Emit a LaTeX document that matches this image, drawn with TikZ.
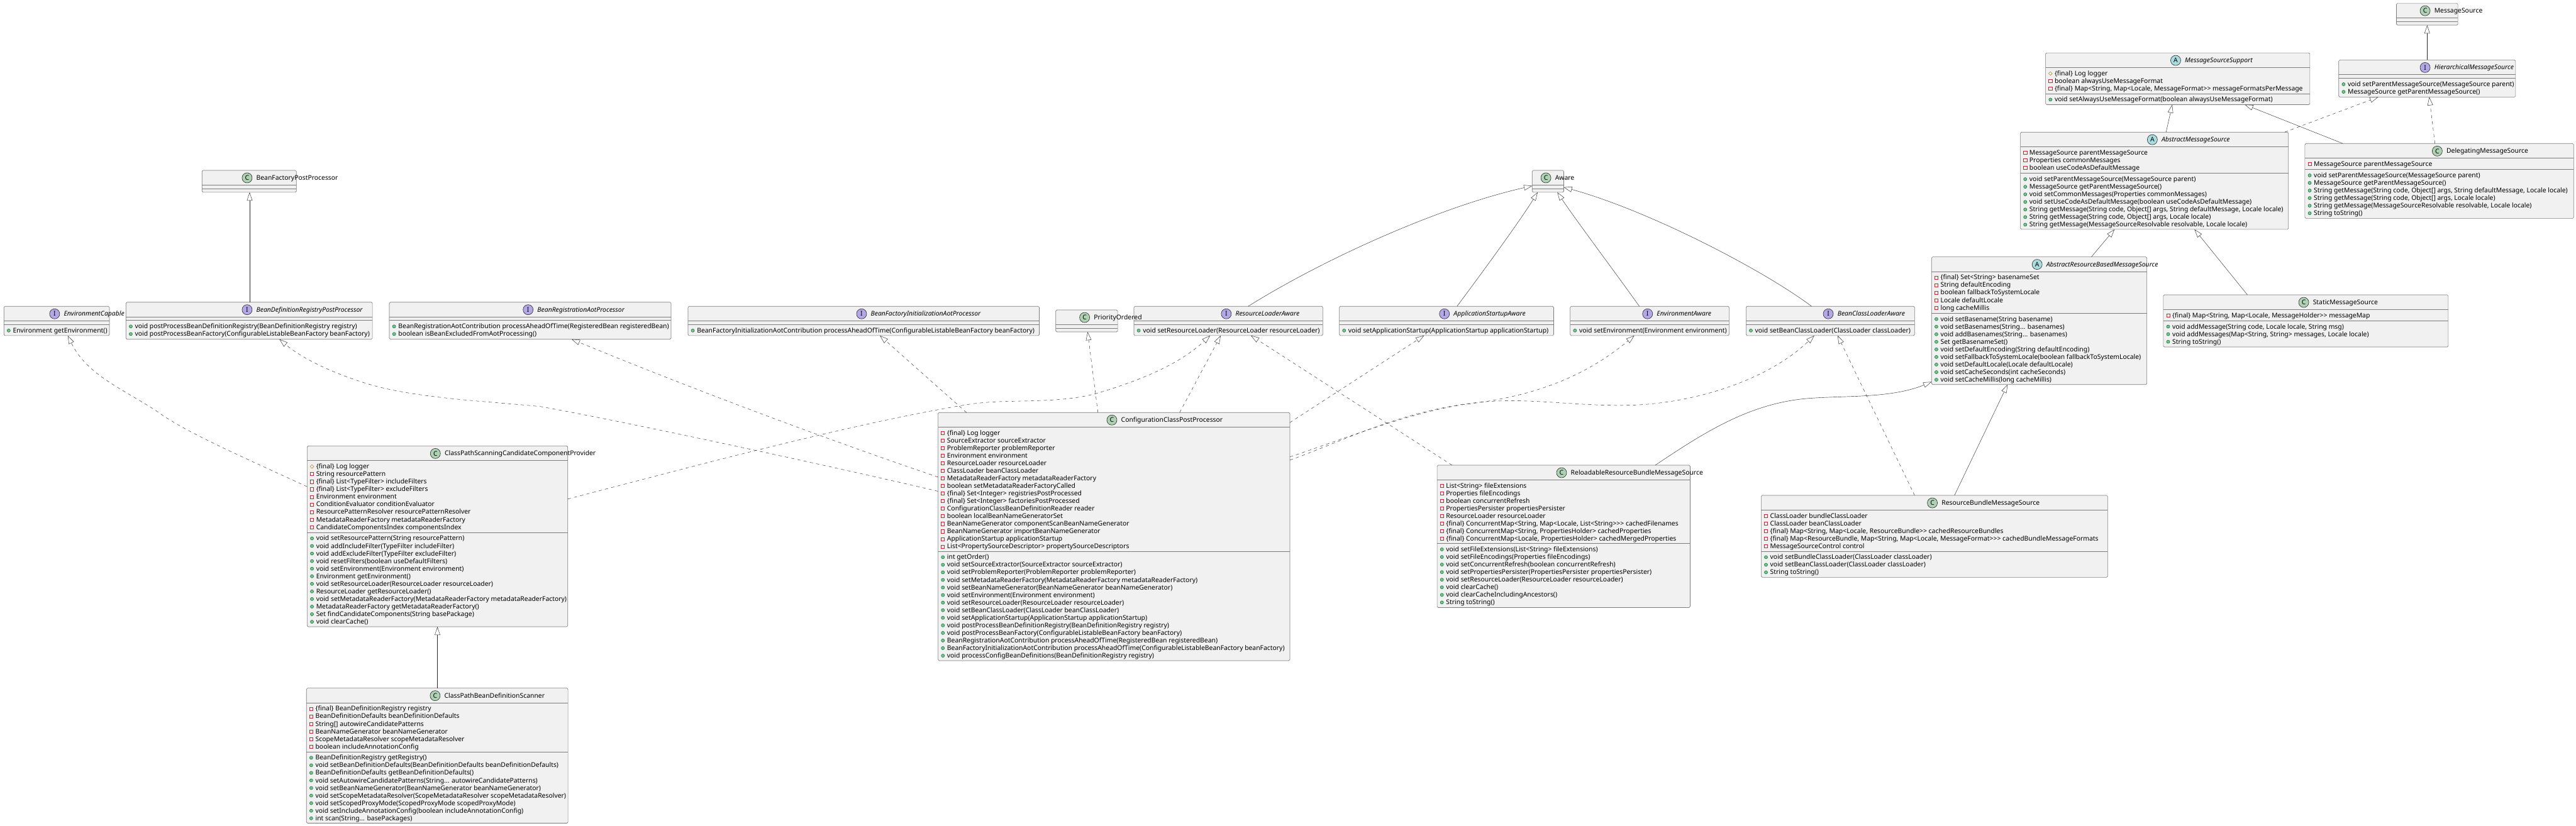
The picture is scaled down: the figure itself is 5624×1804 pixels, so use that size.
\documentclass[tikz,border=0pt]{standalone}
\usepackage{fontspec}
\setmainfont[Ligatures={TeXOff,NoCommon}]{Noto Sans}
\usetikzlibrary{arrows.meta,calc}
\definecolor{boxline}{HTML}{7C7C7C}
\definecolor{boxfill}{HTML}{F1F1F1}
\definecolor{edgeline}{HTML}{262626}
\definecolor{iconC}{HTML}{ADD1B2}
\definecolor{iconI}{HTML}{B4A7E5}
\definecolor{iconA}{HTML}{A9DCDF}
\definecolor{priLine}{HTML}{C82930}
\definecolor{pubLine}{HTML}{038048}
\definecolor{pubFill}{HTML}{84BE84}
\definecolor{proLine}{HTML}{B38D22}
\newcount\rowid
\newlength\titlew
\newcommand\umlfont{\fontsize{14.25}{16}\selectfont}
\newcommand\umlbox[9]{%
  \pgfmathsetmacro\bw{#4-#2}\pgfmathsetmacro\bh{#5-#3}%
  \node[classbody,minimum width=\bw pt,minimum height=\bh pt] (#1) at (#2,#3) {};
  \draw[divider] (#2,#6) -- (#4,#6);
  \draw[divider] (#2,#7) -- (#4,#7);
  \def\tmpL{#8}\def\tmpI{I}\def\tmpA{A}%
  \ifx\tmpL\tmpI\def\titlefont{\umlfont\itshape}\else\ifx\tmpL\tmpA\def\titlefont{\umlfont\itshape}\else\def\titlefont{\umlfont}\fi\fi
  \settowidth\titlew{\titlefont #9}%
  \pgfmathsetmacro\cx{(#2+#4)/2-(31+\titlew)/2+11}%
  \pgfmathsetmacro\tx{\cx+20}%
  \node[classicon,fill=icon#8] (#1-icon) at (\cx,{#3+16.5}) {#8};
  \node[classname,font=\titlefont] (#1-title) at (\tx,{#3+21.3}) {#9};
}
\newcommand\rowsat[2]{\def\rowx{#1}\pgfmathsetmacro\rowy{#2+13}}
\newcommand\rowtext[1]{\global\advance\rowid by 1
  \node[rowtxt] (row\the\rowid) at ({\rowx+19.5},{\rowy+4.8}) {#1};
  \pgfmathsetmacro\rowy{\rowy+16.55}}
\newcommand\pri[1]{\draw[priLine,line width=.8pt] ({\rowx+10.5-3.5},{\rowy-3.5}) rectangle ++(7,7);\rowtext{#1}}
\newcommand\pub[1]{\draw[pubLine,fill=pubFill,line width=.8pt] ({\rowx+10.5},\rowy) circle (3.5);\rowtext{#1}}
\newcommand\pro[1]{\draw[proLine,line width=.8pt] ({\rowx+10.5-4},\rowy) -- ({\rowx+10.5},{\rowy-4}) -- ({\rowx+10.5+4},\rowy) -- ({\rowx+10.5},{\rowy+4}) -- cycle;\rowtext{#1}}
\tikzset{
  classbody/.style={draw=boxline,fill=boxfill,line width=.9pt,rounded corners=2.5pt,anchor=north west,inner sep=0pt,outer sep=0pt},
  divider/.style={draw=boxline,line width=.9pt},
  classicon/.style={circle,draw=edgeline,line width=.8pt,minimum size=22pt,inner sep=0pt,font=\umlfont\bfseries},
  classname/.style={anchor=base west,inner sep=0pt,text=black},
  rowtxt/.style={anchor=base west,inner sep=0pt,font=\umlfont,text=black},
  gen/.style={draw=edgeline,line width=.6pt,-{Triangle[fill=white,length=18pt,width=12pt]}},
  impl/.style={gen,dash pattern=on 7pt off 7pt},
}
\begin{document}
\begin{tikzpicture}[x=1pt,y=-1pt]
\fill[white] (0,0) rectangle (5624,1804);
\useasboundingbox (0,0) rectangle (5624,1804);

\umlbox{ms}{5232}{7}{5366}{55}{39}{47}{C}{MessageSource}
\umlbox{mss}{4466}{115.5}{5043}{228.6}{147.5}{204.5}{A}{MessageSourceSupport}
\rowsat{4466}{147.5}
\pro{\{final\} Log logger}
\pri{boolean alwaysUseMessageFormat}
\pri{\{final\} Map<String, Map<Locale, MessageFormat>> messageFormatsPerMessage}
\rowsat{4466}{204.5}
\pub{void setAlwaysUseMessageFormat(boolean alwaysUseMessageFormat)}

\umlbox{hms}{5106}{131}{5492}{212}{163}{171}{I}{HierarchicalMessageSource}
\rowsat{5106}{171}
\pub{void setParentMessageSource(MessageSource parent)}
\pub{MessageSource getParentMessageSource()}

\umlbox{ams}{4411}{288.6}{4996}{501}{320.6}{378.4}{A}{AbstractMessageSource}
\rowsat{4411}{320.6}
\pri{MessageSource parentMessageSource}
\pri{Properties commonMessages}
\pri{boolean useCodeAsDefaultMessage}
\rowsat{4411}{378.4}
\pub{void setParentMessageSource(MessageSource parent)}
\pub{MessageSource getParentMessageSource()}
\pub{void setCommonMessages(Properties commonMessages)}
\pub{void setUseCodeAsDefaultMessage(boolean useCodeAsDefaultMessage)}
\pub{String getMessage(String code, Object[] args, String defaultMessage, Locale locale)}
\pub{String getMessage(String code, Object[] args, Locale locale)}
\pub{String getMessage(MessageSourceResolvable resolvable, Locale locale)}

\umlbox{dms}{5032}{313.5}{5619}{477}{345.5}{370}{C}{DelegatingMessageSource}
\rowsat{5032}{345.5}
\pri{MessageSource parentMessageSource}
\rowsat{5032}{370}
\pub{void setParentMessageSource(MessageSource parent)}
\pub{MessageSource getParentMessageSource()}
\pub{String getMessage(String code, Object[] args, String defaultMessage, Locale locale)}
\pub{String getMessage(String code, Object[] args, Locale locale)}
\pub{String getMessage(MessageSourceResolvable resolvable, Locale locale)}
\pub{String toString()}

\umlbox{arb}{4217}{561}{4687}{840}{593}{684}{A}{AbstractResourceBasedMessageSource}
\rowsat{4217}{593}
\pri{\{final\} Set<String> basenameSet}
\pri{String defaultEncoding}
\pri{boolean fallbackToSystemLocale}
\pri{Locale defaultLocale}
\pri{long cacheMillis}
\rowsat{4217}{684}
\pub{void setBasename(String basename)}
\pub{void setBasenames(String... basenames)}
\pub{void addBasenames(String... basenames)}
\pub{Set getBasenameSet()}
\pub{void setDefaultEncoding(String defaultEncoding)}
\pub{void setFallbackToSystemLocale(boolean fallbackToSystemLocale)}
\pub{void setDefaultLocale(Locale defaultLocale)}
\pub{void setCacheSeconds(int cacheSeconds)}
\pub{void setCacheMillis(long cacheMillis)}

\umlbox{sms}{4723}{644}{5345}{758}{676.5}{700.3}{C}{StaticMessageSource}
\rowsat{4723}{676.5}
\pri{\{final\} Map<String, Map<Locale, MessageHolder>> messageMap}
\rowsat{4723}{700.3}
\pub{void addMessage(String code, Locale locale, String msg)}
\pub{void addMessages(Map<String, String> messages, Locale locale)}
\pub{String toString()}

\umlbox{rla}{2475.5}{669}{2888}{733}{701}{709}{I}{ResourceLoaderAware}
\rowsat{2475.5}{709}
\pub{void setResourceLoader(ResourceLoader resourceLoader)}
\umlbox{asa}{2924}{669}{3392}{733}{701}{709}{I}{ApplicationStartupAware}
\rowsat{2924}{709}
\pub{void setApplicationStartup(ApplicationStartup applicationStartup)}
\umlbox{ea}{3428}{669}{3775}{733}{701}{709}{I}{EnvironmentAware}
\rowsat{3428}{709}
\pub{void setEnvironment(Environment environment)}
\umlbox{bcla}{3812}{669}{4180}{733}{701}{709}{I}{BeanClassLoaderAware}
\rowsat{3812}{709}
\pub{void setBeanClassLoader(ClassLoader classLoader)}
\umlbox{po}{2305}{677}{2440}{725}{709}{717}{C}{PriorityOrdered}
\umlbox{bfia}{1502}{669}{2269}{733}{701}{709}{I}{BeanFactoryInitializationAotProcessor}
\rowsat{1502}{709}
\pub{BeanFactoryInitializationAotContribution processAheadOfTime(ConfigurableListableBeanFactory beanFactory)}
\umlbox{brap}{850}{660}{1465}{741}{692}{700}{I}{BeanRegistrationAotProcessor}
\rowsat{850}{700}
\pub{BeanRegistrationAotContribution processAheadOfTime(RegisteredBean registeredBean)}
\pub{boolean isBeanExcludedFromAotProcessing()}
\umlbox{bdrpp}{275}{660}{813}{741}{692}{700}{I}{BeanDefinitionRegistryPostProcessor}
\rowsat{275}{700}
\pub{void postProcessBeanDefinitionRegistry(BeanDefinitionRegistry registry)}
\pub{void postProcessBeanFactory(ConfigurableListableBeanFactory beanFactory)}
\umlbox{ec}{8.5}{669}{239}{733}{701}{709}{I}{EnvironmentCapable}
\rowsat{8.5}{709}
\pub{Environment getEnvironment()}
\umlbox{bfpp}{441}{372}{647}{420}{404}{412}{C}{BeanFactoryPostProcessor}
\umlbox{aware}{3345}{372}{3414}{420}{404}{412}{C}{Aware}

\umlbox{ccpp}{2048}{901}{2816}{1443}{932.5}{1204}{C}{ConfigurationClassPostProcessor}
\rowsat{2048}{932.5}
\pri{\{final\} Log logger}
\pri{SourceExtractor sourceExtractor}
\pri{ProblemReporter problemReporter}
\pri{Environment environment}
\pri{ResourceLoader resourceLoader}
\pri{ClassLoader beanClassLoader}
\pri{MetadataReaderFactory metadataReaderFactory}
\pri{boolean setMetadataReaderFactoryCalled}
\pri{\{final\} Set<Integer> registriesPostProcessed}
\pri{\{final\} Set<Integer> factoriesPostProcessed}
\pri{ConfigurationClassBeanDefinitionReader reader}
\pri{boolean localBeanNameGeneratorSet}
\pri{BeanNameGenerator componentScanBeanNameGenerator}
\pri{BeanNameGenerator importBeanNameGenerator}
\pri{ApplicationStartup applicationStartup}
\pri{List<PropertySourceDescriptor> propertySourceDescriptors}
\rowsat{2048}{1204}
\pub{int getOrder()}
\pub{void setSourceExtractor(SourceExtractor sourceExtractor)}
\pub{void setProblemReporter(ProblemReporter problemReporter)}
\pub{void setMetadataReaderFactory(MetadataReaderFactory metadataReaderFactory)}
\pub{void setBeanNameGenerator(BeanNameGenerator beanNameGenerator)}
\pub{void setEnvironment(Environment environment)}
\pub{void setResourceLoader(ResourceLoader resourceLoader)}
\pub{void setBeanClassLoader(ClassLoader beanClassLoader)}
\pub{void setApplicationStartup(ApplicationStartup applicationStartup)}
\pub{void postProcessBeanDefinitionRegistry(BeanDefinitionRegistry registry)}
\pub{void postProcessBeanFactory(ConfigurableListableBeanFactory beanFactory)}
\pub{BeanRegistrationAotContribution processAheadOfTime(RegisteredBean registeredBean)}
\pub{BeanFactoryInitializationAotContribution processAheadOfTime(ConfigurableListableBeanFactory beanFactory)}
\pub{void processConfigBeanDefinitions(BeanDefinitionRegistry registry)}

\umlbox{rrbms}{3137.5}{1016}{3690}{1327}{1048}{1187}{C}{ReloadableResourceBundleMessageSource}
\rowsat{3137.5}{1048}
\pri{List<String> fileExtensions}
\pri{Properties fileEncodings}
\pri{boolean concurrentRefresh}
\pri{PropertiesPersister propertiesPersister}
\pri{ResourceLoader resourceLoader}
\pri{\{final\} ConcurrentMap<String, Map<Locale, List<String>>> cachedFilenames}
\pri{\{final\} ConcurrentMap<String, PropertiesHolder> cachedProperties}
\pri{\{final\} ConcurrentMap<Locale, PropertiesHolder> cachedMergedProperties}
\rowsat{3137.5}{1187}
\pub{void setFileExtensions(List<String> fileExtensions)}
\pub{void setFileEncodings(Properties fileEncodings)}
\pub{void setConcurrentRefresh(boolean concurrentRefresh)}
\pub{void setPropertiesPersister(PropertiesPersister propertiesPersister)}
\pub{void setResourceLoader(ResourceLoader resourceLoader)}
\pub{void clearCache()}
\pub{void clearCacheIncludingAncestors()}
\pub{String toString()}

\umlbox{rbms}{3845}{1082}{4601.5}{1261}{1114}{1204}{C}{ResourceBundleMessageSource}
\rowsat{3845}{1114}
\pri{ClassLoader bundleClassLoader}
\pri{ClassLoader beanClassLoader}
\pri{\{final\} Map<String, Map<Locale, ResourceBundle>> cachedResourceBundles}
\pri{\{final\} Map<ResourceBundle, Map<String, Map<Locale, MessageFormat>>> cachedBundleMessageFormats}
\pri{MessageSourceControl control}
\rowsat{3845}{1204}
\pub{void setBundleClassLoader(ClassLoader classLoader)}
\pub{void setBeanClassLoader(ClassLoader classLoader)}
\pub{String toString()}

\umlbox{cps}{670.6}{974}{1239.5}{1369}{1006}{1163}{C}{ClassPathScanningCandidateComponentProvider}
\rowsat{670.6}{1006}
\pro{\{final\} Log logger}
\pri{String resourcePattern}
\pri{\{final\} List<TypeFilter> includeFilters}
\pri{\{final\} List<TypeFilter> excludeFilters}
\pri{Environment environment}
\pri{ConditionEvaluator conditionEvaluator}
\pri{ResourcePatternResolver resourcePatternResolver}
\pri{MetadataReaderFactory metadataReaderFactory}
\pri{CandidateComponentsIndex componentsIndex}
\rowsat{670.6}{1163}
\pub{void setResourcePattern(String resourcePattern)}
\pub{void addIncludeFilter(TypeFilter includeFilter)}
\pub{void addExcludeFilter(TypeFilter excludeFilter)}
\pub{void resetFilters(boolean useDefaultFilters)}
\pub{void setEnvironment(Environment environment)}
\pub{Environment getEnvironment()}
\pub{void setResourceLoader(ResourceLoader resourceLoader)}
\pub{ResourceLoader getResourceLoader()}
\pub{void setMetadataReaderFactory(MetadataReaderFactory metadataReaderFactory)}
\pub{MetadataReaderFactory getMetadataReaderFactory()}
\pub{Set findCandidateComponents(String basePackage)}
\pub{void clearCache()}

\umlbox{cpb}{669}{1503}{1240}{1798}{1535}{1642}{C}{ClassPathBeanDefinitionScanner}
\rowsat{669}{1535}
\pri{\{final\} BeanDefinitionRegistry registry}
\pri{BeanDefinitionDefaults beanDefinitionDefaults}
\pri{String[] autowireCandidatePatterns}
\pri{BeanNameGenerator beanNameGenerator}
\pri{ScopeMetadataResolver scopeMetadataResolver}
\pri{boolean includeAnnotationConfig}
\rowsat{669}{1642}
\pub{BeanDefinitionRegistry getRegistry()}
\pub{void setBeanDefinitionDefaults(BeanDefinitionDefaults beanDefinitionDefaults)}
\pub{BeanDefinitionDefaults getBeanDefinitionDefaults()}
\pub{void setAutowireCandidatePatterns(String... autowireCandidatePatterns)}
\pub{void setBeanNameGenerator(BeanNameGenerator beanNameGenerator)}
\pub{void setScopeMetadataResolver(ScopeMetadataResolver scopeMetadataResolver)}
\pub{void setScopedProxyMode(ScopedProxyMode scopedProxyMode)}
\pub{void setIncludeAnnotationConfig(boolean includeAnnotationConfig)}
\pub{int scan(String... basePackages)}

% --- connectors: tail (child) to tip (parent) ---
\draw[gen] (5299,0 |- hms.north) -- (5299,0 |- ms.south);
\draw[gen] (4729,0 |- ams.north) -- (4742.5,0 |- mss.south);
\draw[gen] (5115,0 |- dms.north) -- (4901,0 |- mss.south);
\draw[impl] (4988,0 |- ams.north) -- (5192,0 |- hms.south);
\draw[impl] (5316,0 |- dms.north) -- (5303.5,0 |- hms.south);
\draw[gen] (4566,0 |- arb.north) -- (4616.5,0 |- ams.south);
\draw[gen] (4906.5,0 |- sms.north) -- (4791,0 |- ams.south);
\draw[gen] (4267,0 |- rbms.north) -- (4383,0 |- arb.south);
\draw[impl] (4180,0 |- rbms.north) -- (4012,0 |- bcla.south);
\draw[gen] (3614,0 |- rrbms.north) .. controls (3720,945) and (3820,880) .. (3950,870)
  .. controls (4030,864) and (4130,870) .. (arb.west |- 0,834);
\draw[impl] (3170,0 |- rrbms.north) -- (2731,0 |- rla.south);

\draw[gen] (2725,0 |- rla.north) .. controls (2900,560) and (3150,450) .. (aware.west |- 0,406);
\draw[gen] (3181,0 |- asa.north) .. controls (3240,590) and (3320,480) .. (3357,0 |- aware.south);
\draw[gen] (3579,0 |- ea.north) .. controls (3530,600) and (3440,480) .. (3400,0 |- aware.south);
\draw[gen] (3955,0 |- bcla.north) .. controls (3850,590) and (3600,460) .. (aware.east |- 0,409);

\draw[gen] (545,0 |- bdrpp.north) -- (545,0 |- bfpp.south);
\draw[gen] (955,0 |- cpb.north) -- (955,0 |- cps.south);

\draw[impl] (cps.west |- 0,1063) .. controls (500,985) and (400,940) .. (345,900)
  .. controls (270,850) and (190,820) .. (148,0 |- ec.south);
\draw[impl] (ccpp.west |- 0,1073) .. controls (1800,1015) and (1380,924) .. (1180,888)
  .. controls (1080,878) and (950,872) .. (848,850)
  .. controls (790,838) and (680,800) .. (610,0 |- bdrpp.south);
\draw[impl] (ccpp.west |- 0,1042) .. controls (1800,958) and (1500,845) .. (1248,0 |- brap.south);
\draw[impl] (2110,0 |- ccpp.north) -- (1921,0 |- bfia.south);
\draw[impl] (2397,0 |- ccpp.north) -- (2374.5,0 |- po.south);
\draw[impl] (2575.5,0 |- ccpp.north) -- (2665,0 |- rla.south);
\draw[impl] (ccpp.east |- 0,923) -- (3109,0 |- asa.south);
\draw[impl] (ccpp.east |- 0,998) .. controls (2930,960) and (3080,900) .. (3200,883)
  .. controls (3330,868) and (3450,832) .. (3568,0 |- ea.south);
\draw[impl] (ccpp.east |- 0,1005) .. controls (2930,965) and (3070,890) .. (3250,877)
  .. controls (3350,870) and (3450,888) .. (3560,885)
  .. controls (3700,881) and (3860,830) .. (3961,0 |- bcla.south);
\draw[impl] (cps.east |- 0,1090) .. controls (1500,1022) and (1860,925) .. (2110,884)
  .. controls (2200,869) and (2310,885) .. (2402,857)
  .. controls (2480,833) and (2570,800) .. (2642,0 |- rla.south);
\end{tikzpicture}
\end{document}
